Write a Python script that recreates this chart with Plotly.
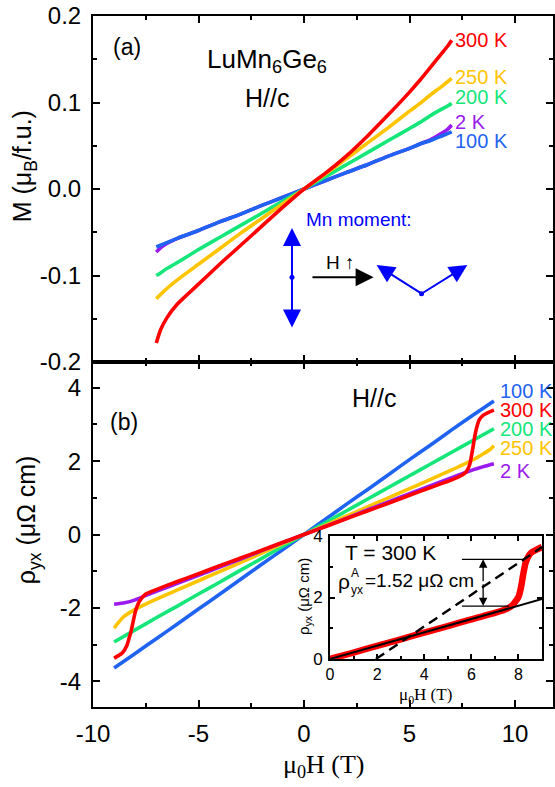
import plotly.graph_objects as go

# ---------------- panel (a): magnetisation M(H), H // c ----------------
h_m = [-7, -6.8, -6.5, -6, -5, -4, -3, -2, -1, 0, 1, 2, 3, 4, 5, 5.5, 6, 6.5, 6.8, 7]
m_2K = [-0.073, -0.068, -0.063, -0.057, -0.048, -0.038, -0.029, -0.019, -0.0095, 0,
        0.0095, 0.019, 0.028, 0.038, 0.047, 0.052, 0.057, 0.064, 0.069, 0.074]
m_100K = [-0.067, -0.065, -0.062, -0.057, -0.048, -0.038, -0.029, -0.019, -0.0095, 0,
          0.0095, 0.019, 0.028, 0.038, 0.047, 0.052, 0.056, 0.061, 0.064, 0.066]
m_200K = [-0.100, -0.097, -0.092, -0.085, -0.070, -0.056, -0.042, -0.028, -0.014, 0,
          0.014, 0.028, 0.042, 0.056, 0.070, 0.077, 0.085, 0.092, 0.096, 0.099]
m_250K = [-0.127, -0.122, -0.115, -0.105, -0.087, -0.069, -0.051, -0.034, -0.017, 0,
          0.017, 0.035, 0.053, 0.071, 0.090, 0.099, 0.109, 0.118, 0.124, 0.128]
m_300K = [-0.178, -0.163, -0.149, -0.133, -0.110, -0.087, -0.065, -0.043, -0.021, 0,
          0.018, 0.038, 0.061, 0.086, 0.112, 0.126, 0.141, 0.156, 0.165, 0.172]

# ---------------- panel (b): Hall resistivity rho_yx(H) ----------------
h_lin = [-9, -8, -7, -6, -5, -4, -3, -2, -1, 0, 1, 2, 3, 4, 5, 6, 7, 8, 9]
rho_100K = [-3.64, -3.24, -2.84, -2.44, -2.03, -1.63, -1.22, -0.81, -0.41, 0,
            0.41, 0.82, 1.22, 1.63, 2.04, 2.44, 2.85, 3.25, 3.64]
rho_200K = [-2.93, -2.60, -2.27, -1.95, -1.62, -1.30, -0.97, -0.65, -0.32, 0,
            0.32, 0.64, 0.96, 1.28, 1.60, 1.92, 2.24, 2.56, 2.88]

h_250 = [-9, -8.8, -8.5, -8, -7, -6, -5, -4, -3, -2, -1, 0, 1, 2, 3, 4, 5, 6, 7, 8, 8.5, 8.8, 9]
rho_250K = [-2.55, -2.40, -2.22, -2.04, -1.76, -1.51, -1.26, -1.01, -0.76, -0.51, -0.25, 0,
            0.25, 0.50, 0.75, 1.00, 1.25, 1.50, 1.76, 2.03, 2.20, 2.31, 2.42]

h_2 = [-9, -8.5, -8, -7.5, -7, -6, -5, -4, -3, -2, -1, 0, 1, 2, 3, 4, 5, 6, 7, 7.5, 8, 8.5, 9]
rho_2K = [-1.90, -1.86, -1.78, -1.66, -1.55, -1.33, -1.11, -0.89, -0.67, -0.44, -0.22, 0,
          0.22, 0.44, 0.67, 0.89, 1.11, 1.33, 1.55, 1.66, 1.76, 1.85, 1.93]

h_300 = [-9, -8.8, -8.6, -8.4, -8.3, -8.2, -8.1, -8.0, -7.9, -7.75, -7.5, -7, -6, -5, -4, -3,
         -2, -1, 0, 1, 2, 3, 4, 5, 6, 7, 7.5, 7.7, 7.85, 8.0, 8.1, 8.2, 8.3, 8.5, 8.75, 9]
rho_300K = [-3.37, -3.30, -3.22, -3.03, -2.85, -2.65, -2.38, -2.12, -1.94, -1.78, -1.62, -1.50,
            -1.28, -1.07, -0.85, -0.64, -0.43, -0.21, 0, 0.21, 0.43, 0.64, 0.85, 1.07, 1.28,
            1.49, 1.62, 1.72, 1.90, 2.35, 2.70, 2.95, 3.12, 3.25, 3.33, 3.39]

# ---------------- inset: 300 K, positive field ----------------
h_inset = [0, 1, 2, 3, 4, 5, 6, 7, 7.5, 7.75, 8.0, 8.1, 8.2, 8.3, 8.45, 8.6, 8.8, 9]
rho_inset = [0, 0.21, 0.43, 0.64, 0.86, 1.07, 1.29, 1.50, 1.63, 1.75, 2.02, 2.30, 2.75,
             3.12, 3.38, 3.49, 3.57, 3.64]
h_normal_fit = [0, 9]
rho_normal_fit = [0, 1.95]
h_high_fit = [1.95, 9]
rho_high_fit = [0, 3.64]
rho_A = 1.52            # anomalous Hall step, uOhm cm
rho_step_base = 1.72    # lower reference level of the step

# tick labels
xticks = [-10, -5, 0, 5, 10]
xticktext = ["-10", "-5", "0", "5", "10"]
m_ticks = [-0.2, -0.1, 0.0, 0.1, 0.2]
m_ticktext = ["-0.2", "-0.1", "0.0", "0.1", "0.2"]
rho_ticks = [-4, -2, 0, 2, 4]
rho_ticktext = ["-4", "-2", "0", "2", "4"]
inset_xticks = [0, 2, 4, 6, 8]
inset_yticks = [0, 2, 4]

C_2K = "#9a1af0"
C_100K = "#1f63f2"
C_200K = "#14e67a"
C_250K = "#ffc400"
C_300K = "#ff0000"
MN_BLUE = "#0000ff"

SANS = "Liberation Sans, Arial, sans-serif"
SERIF = "Liberation Serif, Times New Roman, serif"
LW = 3.6

fig = go.Figure()

# panel (a)
for y, c in [(m_2K, C_2K), (m_100K, C_100K), (m_200K, C_200K), (m_250K, C_250K), (m_300K, C_300K)]:
    fig.add_trace(go.Scatter(x=h_m, y=y, mode="lines", xaxis="x2", yaxis="y2",
                             line=dict(color=c, width=LW, shape="spline", smoothing=0.6),
                             showlegend=False, hoverinfo="skip"))

# panel (b)
for x, y, c in [(h_lin, rho_100K, C_100K), (h_lin, rho_200K, C_200K), (h_250, rho_250K, C_250K),
                (h_2, rho_2K, C_2K), (h_300, rho_300K, C_300K)]:
    fig.add_trace(go.Scatter(x=x, y=y, mode="lines", xaxis="x", yaxis="y",
                             line=dict(color=c, width=LW, shape="spline", smoothing=0.5),
                             showlegend=False, hoverinfo="skip"))

# inset
fig.add_trace(go.Scatter(x=h_inset, y=rho_inset, mode="lines", xaxis="x3", yaxis="y3",
                         line=dict(color=C_300K, width=6.5, shape="spline", smoothing=0.5),
                         showlegend=False, hoverinfo="skip"))
fig.add_trace(go.Scatter(x=h_normal_fit, y=rho_normal_fit, mode="lines", xaxis="x3", yaxis="y3",
                         line=dict(color="black", width=2), showlegend=False, hoverinfo="skip"))
fig.add_trace(go.Scatter(x=h_high_fit, y=rho_high_fit, mode="lines", xaxis="x3", yaxis="y3",
                         line=dict(color="black", width=2.4, dash="10px,6px"),
                         showlegend=False, hoverinfo="skip"))

axis_common = dict(showline=True, linecolor="black", linewidth=2, mirror="ticks",
                   ticks="inside", ticklen=7, tickwidth=1.5, tickcolor="black",
                   showgrid=False, zeroline=False)
minor_common = dict(ticks="inside", ticklen=4, tickwidth=1.5, tickcolor="black", showgrid=False)
tickfont = dict(family=SANS, size=24, color="black")

split = 345 / 691

fig.update_layout(
    width=555, height=787,
    margin=dict(l=93, r=0, t=16, b=80),
    paper_bgcolor="white", plot_bgcolor="white",
    xaxis=dict(axis_common, domain=[0, 1], anchor="y", range=[-10, 11.8],
               tickvals=xticks, ticktext=xticktext, tickfont=tickfont, ticklabelstandoff=4,
               minor=dict(minor_common, dtick=2.5, tick0=0)),
    yaxis=dict(axis_common, domain=[0, split], anchor="x", range=[-4.7, 4.7],
               tickvals=rho_ticks, ticktext=rho_ticktext, tickfont=tickfont, ticklabelstandoff=5,
               minor=dict(minor_common, dtick=1, tick0=0)),
    xaxis2=dict(axis_common, domain=[0, 1], anchor="y2", range=[-10, 11.8], matches="x",
                tickvals=xticks, showticklabels=False,
                minor=dict(minor_common, dtick=2.5, tick0=0)),
    yaxis2=dict(axis_common, domain=[split, 1], anchor="x2", range=[-0.2, 0.2],
                tickvals=m_ticks, ticktext=m_ticktext, tickfont=tickfont, ticklabelstandoff=5,
                minor=dict(minor_common, dtick=0.05, tick0=0)),
    xaxis3=dict(axis_common, linewidth=1.5, ticklen=5, domain=[238 / 462, 451 / 462],
                anchor="y3", range=[0, 9], tickvals=inset_xticks,
                tickfont=dict(family=SANS, size=16, color="black"), ticklabelstandoff=0,
                minor=dict(minor_common, ticklen=3, dtick=1, tick0=0)),
    yaxis3=dict(axis_common, linewidth=1.5, ticklen=5, domain=[48 / 691, 171 / 691],
                anchor="x3", range=[0, 4], tickvals=inset_yticks,
                tickfont=dict(family=SANS, size=17, color="black"), ticklabelstandoff=2,
                minor=dict(minor_common, ticklen=3, dtick=1, tick0=0)),
)


def text(x, y, s, ref="2", size=20, color="black", xanchor="center", family=SANS, **kw):
    fig.add_annotation(x=x, y=y, xref="x" + ref if ref else "x", yref="y" + ref if ref else "y",
                       text=s, showarrow=False, xanchor=xanchor, yanchor="middle",
                       font=dict(family=family, size=size, color=color), **kw)


# panel (a) labels
text(-8.4, 0.164, "(a)", size=23)
text(-1.75, 0.148, "LuMn<sub>6</sub>Ge<sub>6</sub>", size=26)
text(-1.75, 0.105, "H//c", size=25)
for y, s, c in [(0.172, "300 K", C_300K), (0.130, "250 K", C_250K), (0.106, "200 K", C_200K),
                (0.078, "2 K", C_2K), (0.056, "100 K", C_100K)]:
    text(7.08, y, s, size=20, color=c, xanchor="left")
text(0.0, -0.035, "Mn moment:", size=19, color=MN_BLUE, xanchor="left")
text(1.75, -0.085, "H \u2191", size=19)


def arrow(x, y, ax, ay, color, ref="2", width=2, size=1.4, head=2):
    fig.add_annotation(x=x, y=y, ax=ax, ay=ay, xref="x" + ref, yref="y" + ref,
                       axref="x" + ref, ayref="y" + ref, showarrow=True, text="",
                       arrowhead=head, arrowsize=size, arrowwidth=width, arrowcolor=color)


# spin sketch: collinear moments -> canted moments under field
arrow(-0.57, -0.045, -0.57, -0.102, MN_BLUE, size=1.8)
arrow(-0.57, -0.160, -0.57, -0.102, MN_BLUE, size=1.8)
arrow(3.30, -0.102, 0.33, -0.102, "black", size=1.8)
arrow(3.44, -0.088, 5.57, -0.121, MN_BLUE, size=1.8)
arrow(7.74, -0.088, 5.57, -0.121, MN_BLUE, size=1.8)
for cx, cy in [(-0.57, -0.102), (5.57, -0.121)]:
    fig.add_shape(type="circle", xref="x2", yref="y2", xsizemode="pixel", ysizemode="pixel",
                  xanchor=cx, yanchor=cy, x0=-2.5, x1=2.5, y0=-2.5, y1=2.5,
                  fillcolor=MN_BLUE, line=dict(width=0))

# panel (b) labels
text(-8.54, 3.07, "(b)", ref="", size=23)
text(3.3, 3.72, "H//c", ref="", size=25)
for y, s, c in [(3.91, "100 K", C_100K), (3.40, "300 K", C_300K), (2.88, "200 K", C_200K),
                (2.36, "250 K", C_250K), (1.74, "2 K", C_2K)]:
    text(9.2, y, s, ref="", size=20, color=c, xanchor="left")

# inset annotations
text(2.58, 3.46, "T = 300 K", ref="3", size=21)
text(0.26, 2.52, "\u03c1", ref="3", size=21, xanchor="left")
text(0.82, 2.80, "A", ref="3", size=12, xanchor="left")
text(0.82, 2.25, "yx", ref="3", size=12, xanchor="left")
text(1.42, 2.55, "=%.2f \u03bc\u03a9 cm" % rho_A, ref="3", size=19, xanchor="left")
rho_step_top = rho_step_base + rho_A
fig.add_shape(type="line", xref="x3", yref="y3", x0=5.6, x1=8.25, y0=rho_step_top,
              y1=rho_step_top, line=dict(color="black", width=1.2))
fig.add_shape(type="line", xref="x3", yref="y3", x0=5.6, x1=7.6, y0=rho_step_base,
              y1=rho_step_base, line=dict(color="black", width=1.2))
rho_mid = rho_step_base + rho_A / 2
arrow(6.5, rho_step_top, 6.5, rho_mid, "black", ref="3", width=1.3, size=1.3)
arrow(6.5, rho_step_base, 6.5, rho_mid, "black", ref="3", width=1.3, size=1.3)


def paper_text(px, py, s, size, family=SANS, angle=0):
    # px, py: pixel position of the text centre on the page
    fig.add_annotation(x=(px - 93) / 462, y=(707 - py) / 691, xref="paper", yref="paper",
                       xanchor="center", yanchor="middle", text=s, textangle=angle,
                       showarrow=False, font=dict(family=family, size=size, color="black"))


# axis titles
paper_text(24, 166, "M (\u03bc<sub>B</sub>/f.u.)", 25, angle=-90)
paper_text(28, 520, "\u03c1<sub>yx</sub> (\u03bc\u03a9 cm)", 25, angle=-90)
paper_text(325, 766, "\u03bc<sub>0</sub>H (T)", 26, family=SERIF)
paper_text(305, 597, "\u03c1<sub>yx</sub> (\u03bc\u03a9 cm)", 15, angle=-90)
paper_text(427, 696, "\u03bc<sub>0</sub>H (T)", 17, family=SERIF)

fig.write_html("out.html")
